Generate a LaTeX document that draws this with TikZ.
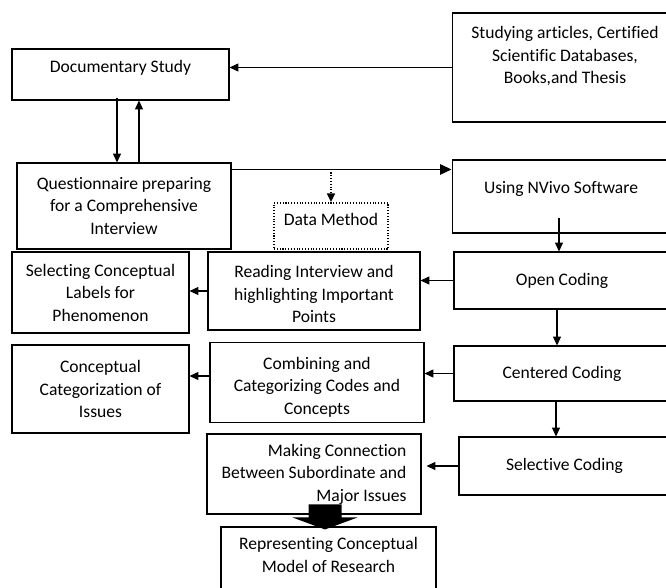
\documentclass[tikz,border=0pt]{standalone}
\usepackage{fontspec}
\setmainfont{Carlito}[Ligatures=NoCommon]
\usetikzlibrary{arrows.meta}
\begin{document}
\begin{tikzpicture}[
    x=0.02cm, y=-0.02cm,
    box/.style={rectangle, draw=black, line width=0.6pt, align=center, font=\fontsize{10}{12.8}\selectfont},
    dotbox/.style={box, densely dotted, line width=1pt},
    arr/.style={-{Triangle[length=5pt, width=4.5pt]}, line width=0.6pt},
    dotarr/.style={arr, densely dotted, line width=1pt}
]
    \useasboundingbox (0,0) rectangle (666,588);
    \clip (0,0) rectangle (666,588);
    % Top row
    \node[box, minimum width=4.34cm, minimum height=1.02cm, text depth=9.5pt] (doc_study) at (120.5,74.5) {Documentary Study};
    \node[box, minimum width=4.52cm, minimum height=2.18cm, text depth=14pt] (src_data) at (565,67.5) {Studying articles, Certified\\ Scientific Databases,\\ Books,and Thesis};
    % Second row
    \node[box, minimum width=4.28cm, minimum height=1.72cm] (questionnaire) at (124,206) {Questionnaire preparing\\ for a Comprehensive\\ Interview};
    \node[dotbox, minimum width=2.28cm, minimum height=0.92cm, text depth=8pt] (data_method) at (331,226) {Data Method};
    \node[box, minimum width=4.36cm, minimum height=1.46cm, text depth=10.5pt] (nvivo) at (561,196.5) {Using NVivo Software};
    % Third row
    \node[box, minimum width=3.54cm, minimum height=1.62cm] (labels) at (100.5,292.5) {Selecting Conceptual\\ Labels for\\ Phenomenon};
    \node[box, minimum width=4.24cm, minimum height=1.56cm, text height=36pt] (reading) at (314,291) {Reading Interview and\\ highlighting Important\\ Points};
    \node[box, minimum width=4.32cm, minimum height=1.14cm] (open_coding) at (562,280.5) {Open Coding};
    % Fourth row
    \node[box, minimum width=3.54cm, minimum height=1.76cm] (categorization) at (100.5,389) {Conceptual\\ Categorization of\\ Issues};
    \node[box, minimum width=4.28cm, minimum height=1.46cm, text height=37.5pt] (combining) at (317,382.5) {Combining and\\ Categorizing Codes and\\ Concepts};
    \node[box, minimum width=4.32cm, minimum height=1.10cm] (centered_coding) at (562,373.5) {Centered Coding};
    % Fifth row
    \node[box, align=right, minimum width=4.28cm, minimum height=1.6cm] (connection) at (314,474) {Making Connection\\ Between Subordinate and\\ Major Issues};
    \node[box, minimum width=4.22cm, minimum height=1.16cm] (selective_coding) at (564.5,466) {Selective Coding};
    % Bottom
    \node[box, minimum width=4.3cm, minimum height=1.46cm, text depth=9.6pt] (model) at (328.5,563.5) {Representing Conceptual\\ Model of Research};

    % Arrows
    \draw[arr] (src_data.west) -- (src_data.west -| doc_study.east);
    \draw[arr] ([xshift=-0.07cm, yshift=0.06cm]doc_study.south) -- ([xshift=-0.07cm]doc_study.south |- questionnaire.north);
    \draw[arr] ([xshift=0.3cm]questionnaire.north) -- ([xshift=0.3cm]questionnaire.north |- doc_study.south);
    \draw[arr, -{Triangle[length=6.5pt, width=6pt]}] ([yshift=-0.14cm]questionnaire.north east) coordinate (q_out) -- (q_out -| nvivo.west);
    \draw[dotarr] ([yshift=-0.06cm]data_method.north |- q_out) -- (data_method.north);
    \draw[arr] ([xshift=-0.04cm, yshift=0.32cm]nvivo.south) -- ([xshift=-0.04cm]nvivo.south |- open_coding.north);
    \draw[arr] (open_coding.west) -- (open_coding.west -| reading.east);
    \draw[arr] (reading.west) -- (reading.west -| labels.east);
    \draw[arr] ([xshift=-0.1cm]open_coding.south) -- ([xshift=-0.1cm]open_coding.south |- centered_coding.north);
    \draw[arr] (centered_coding.west) -- (centered_coding.west -| combining.east);
    \draw[arr] ([yshift=0.13cm]combining.west) coordinate (c_out) -- (c_out -| categorization.east);
    \draw[arr] ([xshift=-0.12cm]centered_coding.south) -- ([xshift=-0.12cm]centered_coding.south |- selective_coding.north);
    \draw[arr] (selective_coding.west) -- ([xshift=0.1cm]selective_coding.west -| connection.east);
    % Block arrow
    \coordinate (tip) at ([xshift=-0.07cm, yshift=-0.06cm]model.north);
    \fill[black] (tip) -- +(0.65cm,0.24cm) -- +(0.33cm,0.24cm) -- +(0.33cm,0.5cm) -- +(-0.33cm,0.5cm) -- +(-0.33cm,0.24cm) -- +(-0.65cm,0.24cm) -- cycle;
\end{tikzpicture}
\end{document}
